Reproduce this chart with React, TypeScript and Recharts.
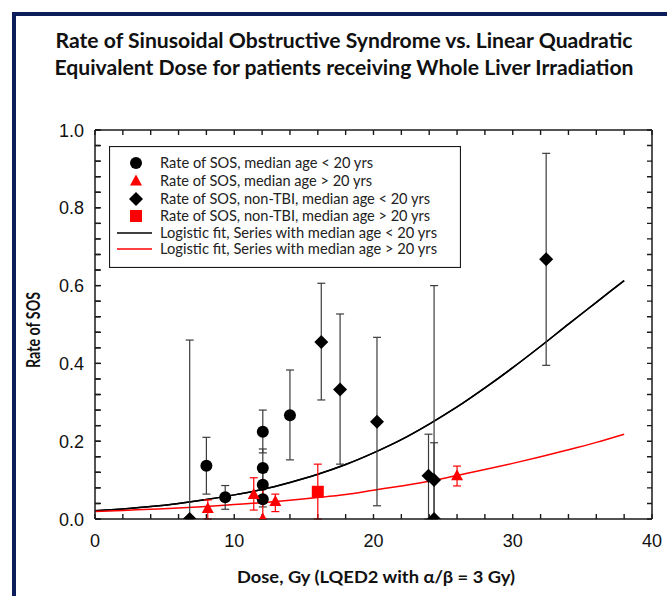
import React from 'react';
import { ComposedChart, Scatter, Line, XAxis, YAxis, ErrorBar, Legend, CartesianGrid } from 'recharts';

// axis ticks (minor every 2 Gy / 0.04, labelled majors)
const xTicks = [0, 2, 4, 6, 8, 10, 12, 14, 16, 18, 20, 22, 24, 26, 28, 30, 32, 34, 36, 38, 40];
const xLabels = [0, 10, 20, 30, 40];
const yTicks = [0, 0.04, 0.08, 0.12, 0.16, 0.2, 0.24, 0.28, 0.32, 0.36, 0.4, 0.44, 0.48, 0.52, 0.56, 0.6, 0.64, 0.68, 0.72, 0.76, 0.8, 0.84, 0.88, 0.92, 0.96, 1];
const yLabels = [0, 0.2, 0.4, 0.6, 0.8, 1];

// Rate of SOS, median age < 20 yrs
const circleDose = [8.0, 9.35, 12.05, 12.05, 12.05, 12.05, 14.0];
const circleRate = [0.137, 0.056, 0.224, 0.131, 0.088, 0.051, 0.267];
const circleLow = [0.064, 0.025, 0.17, 0.08, 0.06, 0.031, 0.152];
const circleHigh = [0.21, 0.086, 0.28, 0.18, 0.12, 0.081, 0.383];

// Rate of SOS, median age > 20 yrs
const triDose = [8.1, 11.4, 12.05, 12.95, 26.0];
const triRate = [0.027, 0.063, 0, 0.045, 0.111];
const triLow = [0, 0.023, 0, 0.019, 0.085];
const triHigh = [0.049, 0.106, 0.089, 0.064, 0.136];

// Rate of SOS, non-TBI, median age < 20 yrs
const diaDose = [6.8, 16.25, 17.6, 20.25, 23.95, 24.35, 24.35, 32.4];
const diaRate = [0, 0.455, 0.333, 0.25, 0.111, 0.1, 0, 0.668];
const diaLow = [0, 0.306, 0.141, 0.034, 0, 0, 0, 0.395];
const diaHigh = [0.46, 0.606, 0.527, 0.467, 0.218, 0.196, 0.6, 0.94];

// Rate of SOS, non-TBI, median age > 20 yrs
const sqDose = [16.0];
const sqRate = [0.07];
const sqLow = [0];
const sqHigh = [0.141];

// logistic fits
const fitDose = [0, 2, 4, 6, 8, 10, 12, 14, 16, 18, 20, 22, 24, 26, 28, 30, 32, 34, 36, 38];
const fitYoung = [0.021, 0.026, 0.032, 0.04, 0.05, 0.062, 0.076, 0.094, 0.115, 0.14, 0.17, 0.204, 0.244, 0.288, 0.337, 0.389, 0.444, 0.501, 0.557, 0.613];
const fitOld = [0.019, 0.022, 0.025, 0.028, 0.032, 0.037, 0.042, 0.048, 0.055, 0.063, 0.074, 0.085, 0.097, 0.112, 0.127, 0.143, 0.16, 0.178, 0.197, 0.218];

const legendLabels = [
  'Rate of SOS, median age < 20 yrs',
  'Rate of SOS, median age > 20 yrs',
  'Rate of SOS, non-TBI, median age < 20 yrs',
  'Rate of SOS, non-TBI, median age > 20 yrs',
  'Logistic fit, Series with median age < 20 yrs',
  'Logistic fit, Series with median age > 20 yrs',
];

const points = (dose: number[], rate: number[], low: number[], high: number[]) =>
  dose.map((x, i) => ({ x, y: rate[i], err: [rate[i] - low[i], high[i] - rate[i]] }));

const curve = (dose: number[], rate: number[]) => dose.map((x, i) => ({ x, y: rate[i] }));

const AXIS = '#1a1a1a';
const RED = '#ff0000';
const BAR = '#3c3c3c';
const tickFont = '"Liberation Sans", Arial, sans-serif';
const labelFont = 'Lato, "Open Sans", sans-serif';

// plot box is 557 x 389 px; grid dashes leave only short marks at both ends = inward ticks
const PLOT_W = 557;
const PLOT_H = 389;
const edgeDash = (len: number, span: number) => `${len} ${span - 2 * len} ${len}`;

const isMajor = (v: number, list: number[]) => list.some((m) => Math.abs(m - v) < 1e-6);

const Dot = (p: any) => <circle cx={p.cx} cy={p.cy} r={6} fill="#000" />;
const Tri = (p: any) => (
  <polygon points={`${p.cx},${p.cy - 6.5} ${p.cx + 6},${p.cy + 4.5} ${p.cx - 6},${p.cy + 4.5}`} fill={RED} />
);
const Diamond = (p: any) => (
  <polygon points={`${p.cx},${p.cy - 7} ${p.cx + 7},${p.cy} ${p.cx},${p.cy + 7} ${p.cx - 7},${p.cy}`} fill="#000" />
);
const Square = (p: any) => <rect x={p.cx - 6} y={p.cy - 6} width={12} height={12} fill={RED} />;

const XLabel = ({ x, y, payload }: any) =>
  isMajor(payload.value, xLabels) ? (
    <text x={x} y={y + 28} textAnchor="middle" fontSize={18} fontFamily={tickFont} fill="#111">
      {payload.value}
    </text>
  ) : (
    <g />
  );

const YLabel = ({ x, y, payload }: any) =>
  isMajor(payload.value, yLabels) ? (
    <text x={x - 11} y={y + 6.5} textAnchor="end" fontSize={18} fontFamily={tickFont} fill="#111">
      {Number(payload.value).toFixed(1)}
    </text>
  ) : (
    <g />
  );

const legendWidths = [213, 212, 270, 270, 277, 277];
const legendRows = [17, 35, 53, 70, 87, 103];

const LegendBox = () => (
  <svg width={352} height={122}>
    <rect x={0.5} y={0.5} width={351} height={121} fill="#fff" stroke={AXIS} strokeWidth={1.2} />
    <Dot cx={27} cy={legendRows[0]} />
    <Tri cx={27} cy={legendRows[1]} />
    <Diamond cx={27} cy={legendRows[2]} />
    <Square cx={27} cy={legendRows[3]} />
    <line x1={8} x2={43} y1={legendRows[4]} y2={legendRows[4]} stroke="#000" strokeWidth={1.5} />
    <line x1={8} x2={43} y1={legendRows[5]} y2={legendRows[5]} stroke={RED} strokeWidth={1.5} />
    {legendLabels.map((t, i) => (
      <text
        key={t}
        x={51}
        y={legendRows[i] + 5}
        fontSize={15}
        fontFamily={labelFont}
        fill="#222"
        textLength={legendWidths[i]}
        lengthAdjust="spacingAndGlyphs"
      >
        {t}
      </text>
    ))}
  </svg>
);

const axisLine = { stroke: AXIS, strokeWidth: 1.5 };
const tickLine = { stroke: AXIS, strokeWidth: 1.4 };

export default function App() {
  const young = curve(fitDose, fitYoung);
  return (
    <div style={{ position: 'absolute', left: 0, top: 0, width: 667, height: 596, background: '#fff', overflow: 'hidden' }}>
      <div
        style={{
          position: 'absolute',
          left: 12,
          top: 12,
          right: 0,
          bottom: 0,
          borderLeft: '4px solid #0b1e5b',
          borderTop: '4px solid #0b1e5b',
        }}
      />
      <svg width={667} height={596} style={{ position: 'absolute', left: 0, top: 0 }}>
        <g fontFamily={labelFont} fontWeight="bold" fill="#111">
          <text x={344} y={48} fontSize={21} textAnchor="middle" textLength={577} lengthAdjust="spacingAndGlyphs">
            Rate of Sinusoidal Obstructive Syndrome vs. Linear Quadratic
          </text>
          <text x={344} y={75} fontSize={21} textAnchor="middle" textLength={579} lengthAdjust="spacingAndGlyphs">
            Equivalent Dose for patients receiving Whole Liver Irradiation
          </text>
          <text x={376} y={583} fontSize={17} textAnchor="middle" textLength={278} lengthAdjust="spacingAndGlyphs">
            Dose, Gy (LQED2 with α/β = 3 Gy)
          </text>
          <text
            x={0}
            y={0}
            fontSize={18}
            textAnchor="middle"
            textLength={76}
            lengthAdjust="spacingAndGlyphs"
            transform="translate(40 330) rotate(-90)"
          >
            Rate of SOS
          </text>
        </g>
      </svg>
      <div style={{ position: 'absolute', left: 0, top: 0 }}>
        <ComposedChart width={667} height={596} margin={{ top: 129, right: 14, bottom: 0, left: 0 }}>
          {/* tick marks on all four sides, from dashed grid lines */}
          <CartesianGrid
            vertical
            horizontal={false}
            stroke={AXIS}
            strokeWidth={1.4}
            strokeDasharray={edgeDash(5, PLOT_H)}
          />
          <CartesianGrid
            horizontal
            vertical={false}
            stroke={AXIS}
            strokeWidth={1.4}
            strokeDasharray={edgeDash(5, PLOT_W)}
          />
          <XAxis
            dataKey="x"
            type="number"
            domain={[0, 40]}
            allowDataOverflow
            ticks={xTicks}
            interval={0}
            height={77}
            tickSize={0}
            tickMargin={0}
            tickLine={false}
            tick={XLabel}
            axisLine={axisLine}
          />
          <XAxis
            xAxisId="top"
            dataKey="x"
            orientation="top"
            type="number"
            domain={[0, 40]}
            allowDataOverflow
            ticks={xTicks}
            interval={0}
            height={1}
            tickLine={false}
            tick={false}
            axisLine={axisLine}
          />
          <YAxis
            type="number"
            domain={[0, 1]}
            allowDataOverflow
            ticks={yTicks}
            interval={0}
            width={95}
            tickSize={-6}
            tickMargin={6}
            tickLine={tickLine}
            tick={YLabel}
            axisLine={axisLine}
          />
          <YAxis
            yAxisId="right"
            orientation="right"
            type="number"
            domain={[0, 1]}
            allowDataOverflow
            ticks={yTicks}
            interval={0}
            width={1}
            tickLine={false}
            tick={false}
            axisLine={axisLine}
          />
          <Legend
            layout="vertical"
            align="center"
            verticalAlign="middle"
            content={() => <LegendBox />}
            wrapperStyle={{ left: 109, top: 146, width: 352, height: 122 }}
          />
          {/* the fit drawn once more on the top/right axes so that frame's axes have a series */}
          <Line
            data={young}
            dataKey="y"
            xAxisId="top"
            yAxisId="right"
            type="monotone"
            stroke="#000"
            strokeWidth={1.5}
            dot={false}
            activeDot={false}
            legendType="none"
            isAnimationActive={false}
          />
          <Line
            data={young}
            dataKey="y"
            type="monotone"
            stroke="#000"
            strokeWidth={1.5}
            dot={false}
            activeDot={false}
            isAnimationActive={false}
          />
          <Line
            data={curve(fitDose, fitOld)}
            dataKey="y"
            type="monotone"
            stroke={RED}
            strokeWidth={1.5}
            dot={false}
            activeDot={false}
            isAnimationActive={false}
          />
          <Scatter data={points(diaDose, diaRate, diaLow, diaHigh)} dataKey="y" shape={Diamond} isAnimationActive={false}>
            <ErrorBar dataKey="err" direction="y" width={4} stroke={BAR} strokeWidth={1.2} />
          </Scatter>
          <Scatter data={points(circleDose, circleRate, circleLow, circleHigh)} dataKey="y" shape={Dot} isAnimationActive={false}>
            <ErrorBar dataKey="err" direction="y" width={4} stroke={BAR} strokeWidth={1.2} />
          </Scatter>
          <Scatter data={points(sqDose, sqRate, sqLow, sqHigh)} dataKey="y" shape={Square} isAnimationActive={false}>
            <ErrorBar dataKey="err" direction="y" width={4} stroke={RED} strokeWidth={1.2} />
          </Scatter>
          <Scatter data={points(triDose, triRate, triLow, triHigh)} dataKey="y" shape={Tri} isAnimationActive={false}>
            <ErrorBar dataKey="err" direction="y" width={4} stroke={RED} strokeWidth={1.2} />
          </Scatter>
        </ComposedChart>
      </div>
    </div>
  );
}
